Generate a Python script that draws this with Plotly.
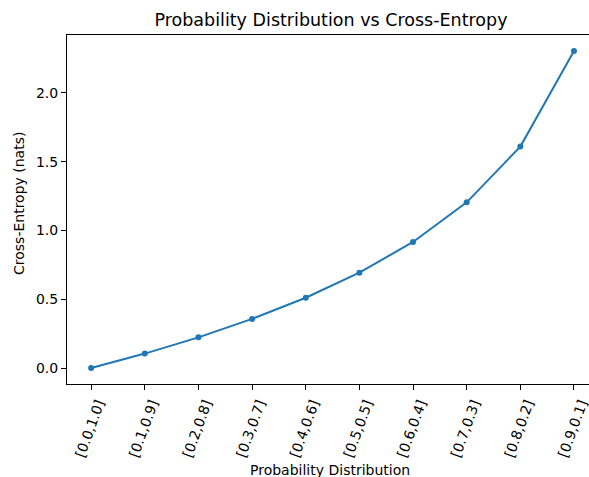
import plotly.graph_objects as go

# Predicted distributions [q0, q1] against a true one-hot label [0, 1]
distributions = ["[0.0,1.0]", "[0.1,0.9]", "[0.2,0.8]", "[0.3,0.7]", "[0.4,0.6]",
                 "[0.5,0.5]", "[0.6,0.4]", "[0.7,0.3]", "[0.8,0.2]", "[0.9,0.1]"]
cross_entropy = [0.0, 0.105, 0.223, 0.357, 0.511, 0.693, 0.916, 1.204, 1.609, 2.303]
y_ticks = [0.0, 0.5, 1.0, 1.5, 2.0]

FONT = "DejaVu Sans"
W, H = 589, 477
L, T, B = 67, 35, 93
PW, PH = W - L, H - T - B


def px_x(x):
    return (x - L) / PW


def px_y(y):
    return (H - B - y) / PH


fig = go.Figure()
fig.add_trace(go.Scatter(
    x=list(range(len(distributions))),
    y=cross_entropy,
    mode="lines+markers",
    line=dict(color="#1f77b4", width=2),
    marker=dict(color="#1f77b4", size=6),
    showlegend=False,
))

fig.update_layout(
    width=W, height=H,
    margin=dict(l=L, r=0, t=T, b=B, pad=0),
    plot_bgcolor="white", paper_bgcolor="white",
    font=dict(family=FONT, size=14, color="black"),
    title=dict(text="Probability Distribution vs Cross-Entropy",
               x=331 / W, xanchor="center", y=1 - 20 / H, yanchor="middle",
               font=dict(family=FONT, size=17.5, color="black")),
    xaxis=dict(
        range=[-0.45, 9.28],
        automargin=False,
        tickmode="array",
        tickvals=list(range(len(distributions))),
        ticktext=distributions,
        tickangle=-70,
        ticks="outside", ticklen=5, tickwidth=1, tickcolor="black",
        ticklabelshift=7,
        ticklabeloverflow="allow",
        showgrid=False, zeroline=False,
        showline=True, linecolor="black", linewidth=1, mirror=True,
    ),
    yaxis=dict(
        range=[-0.116, 2.42],
        automargin=False,
        tickmode="array",
        tickvals=y_ticks,
        ticktext=[f"{v:.1f}" for v in y_ticks],
        ticks="outside", ticklen=5, tickwidth=1, tickcolor="black",
        showgrid=False, zeroline=False,
        showline=True, linecolor="black", linewidth=1,
    ),
    annotations=[
        dict(text="Probability Distribution", xref="paper", yref="paper",
             x=px_x(330), y=px_y(470), xanchor="center", yanchor="middle",
             showarrow=False, font=dict(family=FONT, size=14)),
        dict(text="Cross-Entropy (nats)", xref="paper", yref="paper",
             x=px_x(19), y=px_y(204), xanchor="center", yanchor="middle",
             textangle=-90, showarrow=False, font=dict(family=FONT, size=14)),
    ],
)

fig.write_html("out.html")
